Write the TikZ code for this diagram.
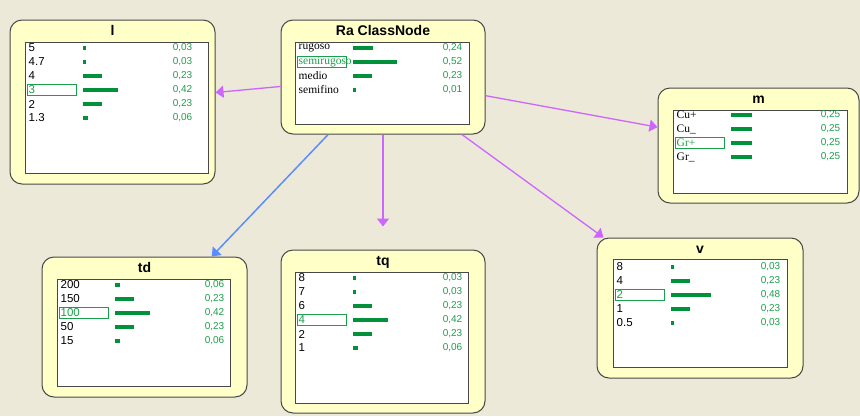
\documentclass[tikz,border=0pt]{standalone}
\usepackage{fontspec}
\setmainfont{Liberation Serif}
\setsansfont{Liberation Sans}
\usepackage{tikz}
\usetikzlibrary{calc, arrows.meta}
\definecolor{bg}{HTML}{ECE9D8}
\definecolor{nodefill}{HTML}{FFFFC8}
\definecolor{framegray}{HTML}{484848}
\definecolor{bargreen}{HTML}{00913A}
\definecolor{valgreen}{HTML}{1AA04A}
\definecolor{linkpurple}{HTML}{CC66FF}
\definecolor{linkblue}{HTML}{5C8DFF}
\pgfkeys{/pgf/number format/.cd, fixed, fixed zerofill, precision=2, use comma, assume math mode=true}
\tikzset{
  bnode/.style={draw=framegray, fill=nodefill, line width=1pt, rounded corners=12pt, inner sep=0pt},
  pane/.style={draw=framegray, fill=white, line width=1pt, inner sep=0pt},
  btitle/.style={anchor=base, inner sep=0pt, font=\sffamily\bfseries\fontsize{14}{14}\selectfont},
  statelab/.style={anchor=west, inner sep=0pt, font=\sffamily\fontsize{11.5}{11.5}\selectfont},
  serif/.style={font=\rmfamily\fontsize{11.5}{11.5}\selectfont},
  probval/.style={anchor=east, inner sep=0pt, text=valgreen, font=\sffamily\fontsize{10}{10}\selectfont},
  probbar/.style={fill=bargreen},
  selbox/.style={draw=valgreen, line width=0.8pt},
  link/.style={draw=linkpurple, line width=1.3pt, -{Triangle[length=8pt,width=12pt]}},
  blue link/.style={draw=linkblue, line width=1.5pt}}
% states of one node: pane, first row offset, label/prob/selected
\newcommand\drawstates[4][]{%
  \foreach \lab/\p/\s [count=\i from 0] in {#4} {
    \pgfmathsetmacro\ry{#3+14*\i}
    \ifnum\s=1
      \draw[selbox] ($(#2.north west)+(3,\ry-5.5)$) rectangle ++(49,11);
      \node[statelab,#1,text=valgreen] at ($(#2.north west)+(4,\ry)$) {\lab};
    \else
      \node[statelab,#1] at ($(#2.north west)+(4,\ry)$) {\lab};
    \fi
    \fill[probbar] ($(#2.north west)+(58,\ry-2)$) rectangle ++({max(3,85*\p)},4);
    \node[probval] at ($(#2.north west)+(168,\ry)$) {\pgfmathprintnumber{\p}};
  }}

\begin{document}
\begin{tikzpicture}[x=1pt, y=-1pt]
\path[use as bounding box, fill=bg] (0,0) rectangle (860,416);

% outer boxes
\node[bnode, minimum width=205pt, minimum height=164pt] (l) at (112.5,102) {};
\node[bnode, minimum width=204pt, minimum height=114pt] (ra) at (383,77) {};
\node[bnode, minimum width=201pt, minimum height=115pt] (m) at (758.5,145.5) {};
\node[bnode, minimum width=205pt, minimum height=140pt] (td) at (144.5,327) {};
\node[bnode, minimum width=204pt, minimum height=163pt] (tq) at (383,331.5) {};
\node[bnode, minimum width=206pt, minimum height=140pt] (v) at (700,308) {};

% titles
\node[btitle] (l-t) at ($(l.north)+(0,16)$) {l};
\node[btitle] (ra-t) at ($(ra.north)+(0,16)$) {Ra ClassNode};
\node[btitle] (m-t) at ($(m.north)+(0,16)$) {m};
\node[btitle] (td-t) at ($(td.north)+(0,16)$) {td};
\node[btitle] (tq-t) at ($(tq.north)+(0,16)$) {tq};
\node[btitle] (v-t) at ($(v.north)+(0,16)$) {v};

% panes
\node[pane, minimum width=183pt, minimum height=131pt] (l-p) at (116.5,107.5) {};
\node[pane, minimum width=174pt, minimum height=82pt] (ra-p) at (382,83) {};
\node[pane, minimum width=174pt, minimum height=83pt] (m-p) at (760,151.5) {};
\node[pane, minimum width=173pt, minimum height=107pt] (td-p) at (143.5,332.5) {};
\node[pane, minimum width=173pt, minimum height=131pt] (tq-p) at (381.5,337.5) {};
\node[pane, minimum width=174pt, minimum height=108pt] (v-p) at (700,313) {};

\drawstates{l-p}{6.5}{5/0.03/0, 4.7/0.03/0, 4/0.23/0, 3/0.42/1, 2/0.23/0, 1.3/0.06/0}
\drawstates[serif]{ra-p}{6.5}{rugoso/0.24/0, semirugoso/0.52/1, medio/0.23/0, semifino/0.01/0}
\drawstates[serif]{m-p}{5.5}{Cu+/0.25/0, Cu\_/0.25/0, Gr+/0.25/1, Gr\_/0.25/0}
\drawstates{td-p}{6.5}{200/0.06/0, 150/0.23/0, 100/0.42/1, 50/0.23/0, 15/0.06/0}
\drawstates{tq-p}{6.5}{8/0.03/0, 7/0.03/0, 6/0.23/0, 4/0.42/1, 2/0.23/0, 1/0.06/0}
\drawstates{v-p}{8}{8/0.03/0, 4/0.23/0, 2/0.48/1, 1/0.23/0, 0.5/0.03/0}

% links
\draw[link] (ra) -- (l);
\draw[link] (ra) -- (m);
\draw[link, blue link] (ra) -- (td);
\draw[link, shorten >=23pt] (ra) -- (tq);
\draw[link] (ra) -- (v);
\end{tikzpicture}
\end{document}
